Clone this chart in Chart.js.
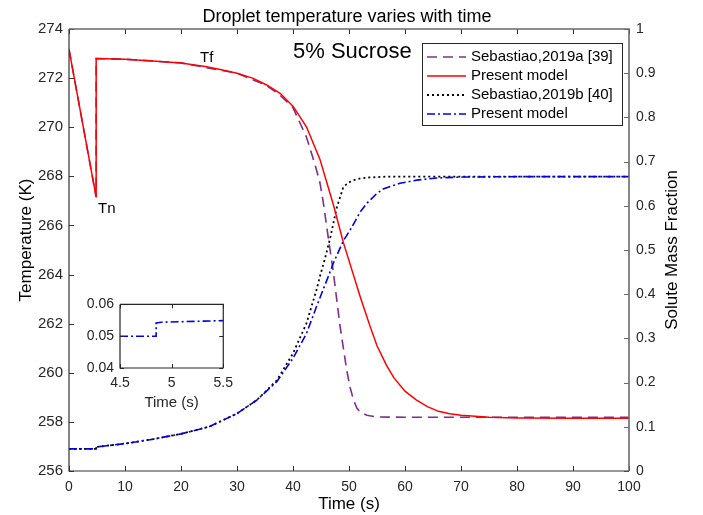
<!DOCTYPE html>
<html><head><meta charset="utf-8">
<script src="https://cdn.jsdelivr.net/npm/chart.js@4.4.1/dist/chart.umd.min.js"></script>
<style>
html,body{margin:0;padding:0;background:#fff;}
#wrap{position:relative;width:703px;height:515px;overflow:hidden;}
#main{position:absolute;left:0;top:0;}
#inset{position:absolute;left:70px;top:290px;}
</style></head><body>
<div id="wrap">
<canvas id="main" width="703" height="515" style="width:703px;height:515px"></canvas>
<canvas id="inset" width="170" height="125" style="width:170px;height:125px"></canvas>
</div>
<script>
// ---------- data ----------
const legendLabels = ['Sebastiao,2019a [39]', 'Present model', 'Sebastiao,2019b [40]', 'Present model'];

// Present model: droplet temperature (K)
const timeModelT = [0, 4.85, 4.85, 10, 15, 20, 24.3, 27, 30, 32.9, 35.3, 37.7, 40, 42.4, 44.8, 47.2, 49, 50.5, 52, 53.75, 55, 56.7, 58, 60, 62, 64, 66, 68, 70, 75, 80, 90, 100];
const tempModelT = [273.17, 267.15, 272.8, 272.77, 272.7, 272.62, 272.47, 272.35, 272.2, 271.99, 271.72, 271.38, 270.86, 270.02, 268.7, 266.85, 265.3, 264.2, 263.1, 261.9, 261.1, 260.3, 259.8, 259.25, 258.9, 258.62, 258.43, 258.33, 258.27, 258.19, 258.16, 258.15, 258.15];

// Sebastiao 2019a: droplet temperature (K)
const timeSebA = [0, 4.85, 4.85, 10, 20, 30, 35.3, 37.7, 40, 42.4, 43.9, 44.8, 45.4, 46.3, 47.2, 48.4, 49.6, 50.2, 50.8, 51.4, 52, 53.2, 55, 60, 70, 80, 100];
const tempSebA = [273.17, 267.15, 272.8, 272.77, 272.62, 272.2, 271.7, 271.3, 270.8, 269.6, 268.5, 267.75, 266.95, 265.5, 264.1, 261.9, 260.1, 259.4, 258.9, 258.56, 258.4, 258.27, 258.2, 258.19, 258.19, 258.19, 258.19];

// Sebastiao 2019b: solute mass fraction
const timeSebB = [0, 4.85, 4.85, 10, 15, 20, 25, 30, 33.5, 37.1, 40, 42.4, 44.2, 44.8, 45.7, 46.6, 47.8, 49, 50, 50.8, 52, 53.5, 56.7, 60, 70, 100];
const fracSebB = [0.05, 0.05, 0.0543, 0.062, 0.072, 0.084, 0.1, 0.13, 0.16, 0.205, 0.266, 0.334, 0.41, 0.44, 0.48, 0.525, 0.595, 0.643, 0.653, 0.658, 0.662, 0.664, 0.666, 0.666, 0.666, 0.666];

// Present model: solute mass fraction
const timeModelF = [0, 4.85, 4.85, 10, 15, 20, 25, 30, 33.5, 37.1, 40, 42.4, 44.2, 46.3, 47.2, 49, 50.2, 52, 53.2, 54.9, 56.1, 59.1, 62.1, 65.7, 70, 80, 100];
const fracModel  = [0.05, 0.05, 0.0543, 0.062, 0.072, 0.084, 0.1, 0.13, 0.16, 0.202, 0.255, 0.311, 0.372, 0.44, 0.47, 0.521, 0.545, 0.586, 0.606, 0.627, 0.638, 0.651, 0.658, 0.663, 0.665, 0.666, 0.666];

// Inset (zoom of the step near nucleation)
const insetTime = [4.5, 4.85, 4.85, 4.9, 5.5];
const insetFrac = [0.05, 0.05, 0.0542, 0.0544, 0.0549];

// tick labels
const timeTicks = [0, 10, 20, 30, 40, 50, 60, 70, 80, 90, 100];
const tempTicks = [256, 258, 260, 262, 264, 266, 268, 270, 272, 274];
const fracTicks = [0, 0.1, 0.2, 0.3, 0.4, 0.5, 0.6, 0.7, 0.8, 0.9, 1];
const insetTimeTicks = [4.5, 5, 5.5];
const insetFracTicks = [0.04, 0.05, 0.06];

// ---------- setup ----------
const FONT = "'Liberation Sans', Arial, Helvetica, sans-serif";
Chart.defaults.font.family = FONT;
Chart.defaults.color = '#262626';
const xy = (xs, ys) => xs.map((x, i) => ({x: x, y: ys[i]}));
const setTicks = arr => (s => { s.ticks = arr.map(v => ({value: v})); });

function drawTicksFrame(chart, opts) {
  const {ctx, chartArea: a, scales} = chart;
  const L = opts.len;
  ctx.save();
  ctx.lineCap = 'butt';
  const xs = scales[opts.x];
  ctx.strokeStyle = opts.c1; ctx.lineWidth = 1;
  ctx.beginPath();
  xs.ticks.forEach(t => {
    const px = Math.round(xs.getPixelForValue(t.value)) + 0.5;
    ctx.moveTo(px, a.bottom); ctx.lineTo(px, a.bottom - L);
    ctx.moveTo(px, a.top); ctx.lineTo(px, a.top + L);
  });
  const yl = scales[opts.yl];
  yl.ticks.forEach(t => {
    const py = Math.round(yl.getPixelForValue(t.value)) + 0.5;
    ctx.moveTo(a.left, py); ctx.lineTo(a.left + L, py);
    if (opts.mirrorY) { ctx.moveTo(a.right, py); ctx.lineTo(a.right - L, py); }
  });
  ctx.stroke();
  if (opts.yr) {
    const yr = scales[opts.yr];
    ctx.strokeStyle = opts.c2; ctx.beginPath();
    yr.ticks.forEach(t => {
      const py = Math.round(yr.getPixelForValue(t.value)) + 0.5;
      ctx.moveTo(a.right, py); ctx.lineTo(a.right - L, py);
    });
    ctx.stroke();
  }
  ctx.lineWidth = opts.w1; ctx.strokeStyle = opts.c1;
  ctx.beginPath();
  ctx.moveTo(a.left, a.top); ctx.lineTo(a.left, a.bottom); ctx.lineTo(a.right, a.bottom);
  ctx.stroke();
  ctx.lineWidth = opts.w2; ctx.strokeStyle = opts.c2;
  ctx.beginPath();
  ctx.moveTo(a.left, a.top); ctx.lineTo(a.right, a.top); ctx.lineTo(a.right, a.bottom);
  ctx.stroke();
  ctx.restore();
}

const mainFrame = {id: 'mainFrame', afterDatasetsDraw(chart) {
  drawTicksFrame(chart, {x: 'x', yl: 'yT', yr: 'yF', len: 5, c1: '#333333', c2: '#6a6a6a', w1: 1.2, w2: 1.6, mirrorY: false});
}};

const textPlugin = {id: 'texts', afterDraw(chart) {
  const ctx = chart.ctx;
  ctx.save();
  ctx.fillStyle = '#000';
  ctx.textBaseline = 'middle';
  ctx.textAlign = 'center';
  ctx.font = '18px ' + FONT;
  ctx.fillText('Droplet temperature varies with time', 347, 17);
  ctx.textAlign = 'left';
  ctx.font = '22px ' + FONT;
  ctx.fillText('5% Sucrose', 293, 52);
  ctx.font = '15px ' + FONT;
  ctx.fillText('Tf', 200, 58);
  ctx.fillText('Tn', 98, 209);
  ctx.font = '17px ' + FONT;
  ctx.textAlign = 'center';
  ctx.save(); ctx.translate(26, 240); ctx.rotate(-Math.PI / 2); ctx.fillText('Temperature (K)', 0, 0); ctx.restore();
  ctx.save(); ctx.translate(672, 250); ctx.rotate(-Math.PI / 2); ctx.fillText('Solute Mass Fraction', 0, 0); ctx.restore();
  ctx.restore();
}};

const legendOrder = [2, 0, 3, 1]; // dataset index for each legend row
const legendPlugin = {id: 'boxLegend', afterDraw(chart) {
  const ctx = chart.ctx;
  const bx = 422.5, by = 43.5, bw = 200, bh = 82;
  ctx.save();
  ctx.fillStyle = '#fff'; ctx.fillRect(bx, by, bw, bh);
  ctx.strokeStyle = '#262626'; ctx.lineWidth = 1; ctx.strokeRect(bx, by, bw, bh);
  ctx.font = '15px ' + FONT; ctx.textBaseline = 'middle'; ctx.textAlign = 'left';
  legendOrder.forEach((di, i) => {
    const ds = chart.data.datasets[di];
    const y = 57 + i * 19;
    ctx.save();
    ctx.strokeStyle = ds.borderColor; ctx.lineWidth = ds.borderWidth;
    ctx.setLineDash(ds.borderDash || []);
    ctx.beginPath(); ctx.moveTo(427, y); ctx.lineTo(466, y); ctx.stroke();
    ctx.restore();
    ctx.fillStyle = '#000';
    ctx.fillText(legendLabels[i], 471, y);
  });
  ctx.restore();
}};

new Chart(document.getElementById('main'), {
  type: 'line',
  data: {datasets: [
    {label: legendLabels[1], data: xy(timeModelT, tempModelT), yAxisID: 'yT', borderColor: '#ff0000', borderWidth: 1.5, pointRadius: 0, tension: 0, fill: false},
    {label: legendLabels[3], data: xy(timeModelF, fracModel), yAxisID: 'yF', borderColor: '#0000e6', borderWidth: 1.6, borderDash: [8, 3, 2, 3], pointRadius: 0, tension: 0, fill: false},
    {label: legendLabels[0], data: xy(timeSebA, tempSebA), yAxisID: 'yT', borderColor: '#7e2f8e', borderWidth: 1.6, borderDash: [10, 6], pointRadius: 0, tension: 0, fill: false},
    {label: legendLabels[2], data: xy(timeSebB, fracSebB), yAxisID: 'yF', borderColor: '#000000', borderWidth: 1.8, borderDash: [2, 3], pointRadius: 0, tension: 0, fill: false}
  ]},
  options: {
    responsive: false, animation: false, devicePixelRatio: 1,
    layout: {padding: {top: 29, left: 0, right: 0, bottom: 0}},
    plugins: {legend: {display: false}, tooltip: {enabled: false}, title: {display: false}},
    scales: {
      x: {type: 'linear', position: 'bottom', min: 0, max: 100,
          afterFit: s => { s.height = 44; }, afterBuildTicks: setTicks(timeTicks),
          grid: {display: false, drawTicks: false}, border: {display: false},
          ticks: {font: {size: 14}, padding: 8, color: '#262626', maxRotation: 0, autoSkip: false, callback: v => String(v)},
          title: {display: true, text: 'Time (s)', font: {size: 17}, color: '#000', padding: {top: 0, bottom: 0}}},
      yT: {type: 'linear', position: 'left', min: 256, max: 274,
          afterFit: s => { s.width = 69; }, afterBuildTicks: setTicks(tempTicks),
          grid: {display: false, drawTicks: false}, border: {display: false},
          ticks: {font: {size: 15}, padding: 6, color: '#262626', autoSkip: false, callback: v => String(v)}},
      yF: {type: 'linear', position: 'right', min: 0, max: 1,
          afterFit: s => { s.width = 74; }, afterBuildTicks: setTicks(fracTicks),
          grid: {display: false, drawTicks: false}, border: {display: false},
          ticks: {font: {size: 14}, padding: 7, color: '#262626', autoSkip: false, callback: v => String(v)}}
    }
  },
  plugins: [mainFrame, textPlugin, legendPlugin]
});

// ---------- inset ----------
const insetBg = {id: 'insetBg', beforeDatasetsDraw(chart) {
  const {ctx, chartArea: a} = chart;
  ctx.save(); ctx.fillStyle = '#fff'; ctx.fillRect(a.left, a.top, a.right - a.left, a.bottom - a.top); ctx.restore();
}, afterDatasetsDraw(chart) {
  drawTicksFrame(chart, {x: 'x', yl: 'y', len: 4, c1: '#262626', c2: '#262626', w1: 1.2, w2: 1.2, mirrorY: true});
}};

new Chart(document.getElementById('inset'), {
  type: 'line',
  data: {datasets: [
    {label: legendLabels[3], data: xy(insetTime, insetFrac), borderColor: '#0000e6', borderWidth: 1.6, borderDash: [8, 3, 2, 3], pointRadius: 0, tension: 0, fill: false}
  ]},
  options: {
    responsive: false, animation: false, devicePixelRatio: 1,
    layout: {padding: {top: 8, right: 11, left: 0, bottom: 0}},
    plugins: {legend: {display: false}, tooltip: {enabled: false}},
    scales: {
      x: {type: 'linear', position: 'bottom', min: 4.5, max: 5.5,
          afterFit: s => { s.height = 47; }, afterBuildTicks: setTicks(insetTimeTicks),
          grid: {display: false, drawTicks: false}, border: {display: false},
          ticks: {font: {size: 14}, padding: 7, color: '#262626', maxRotation: 0, autoSkip: false, callback: v => String(v)},
          title: {display: true, text: 'Time (s)', font: {size: 15}, color: '#262626', padding: {top: 0, bottom: 3}}},
      y: {type: 'linear', position: 'left', min: 0.04, max: 0.06,
          afterFit: s => { s.width = 50; }, afterBuildTicks: setTicks(insetFracTicks),
          grid: {display: false, drawTicks: false}, border: {display: false},
          ticks: {font: {size: 14}, padding: 6, color: '#262626', autoSkip: false, callback: v => String(v)}}
    }
  },
  plugins: [insetBg]
});
</script>
</body></html>
